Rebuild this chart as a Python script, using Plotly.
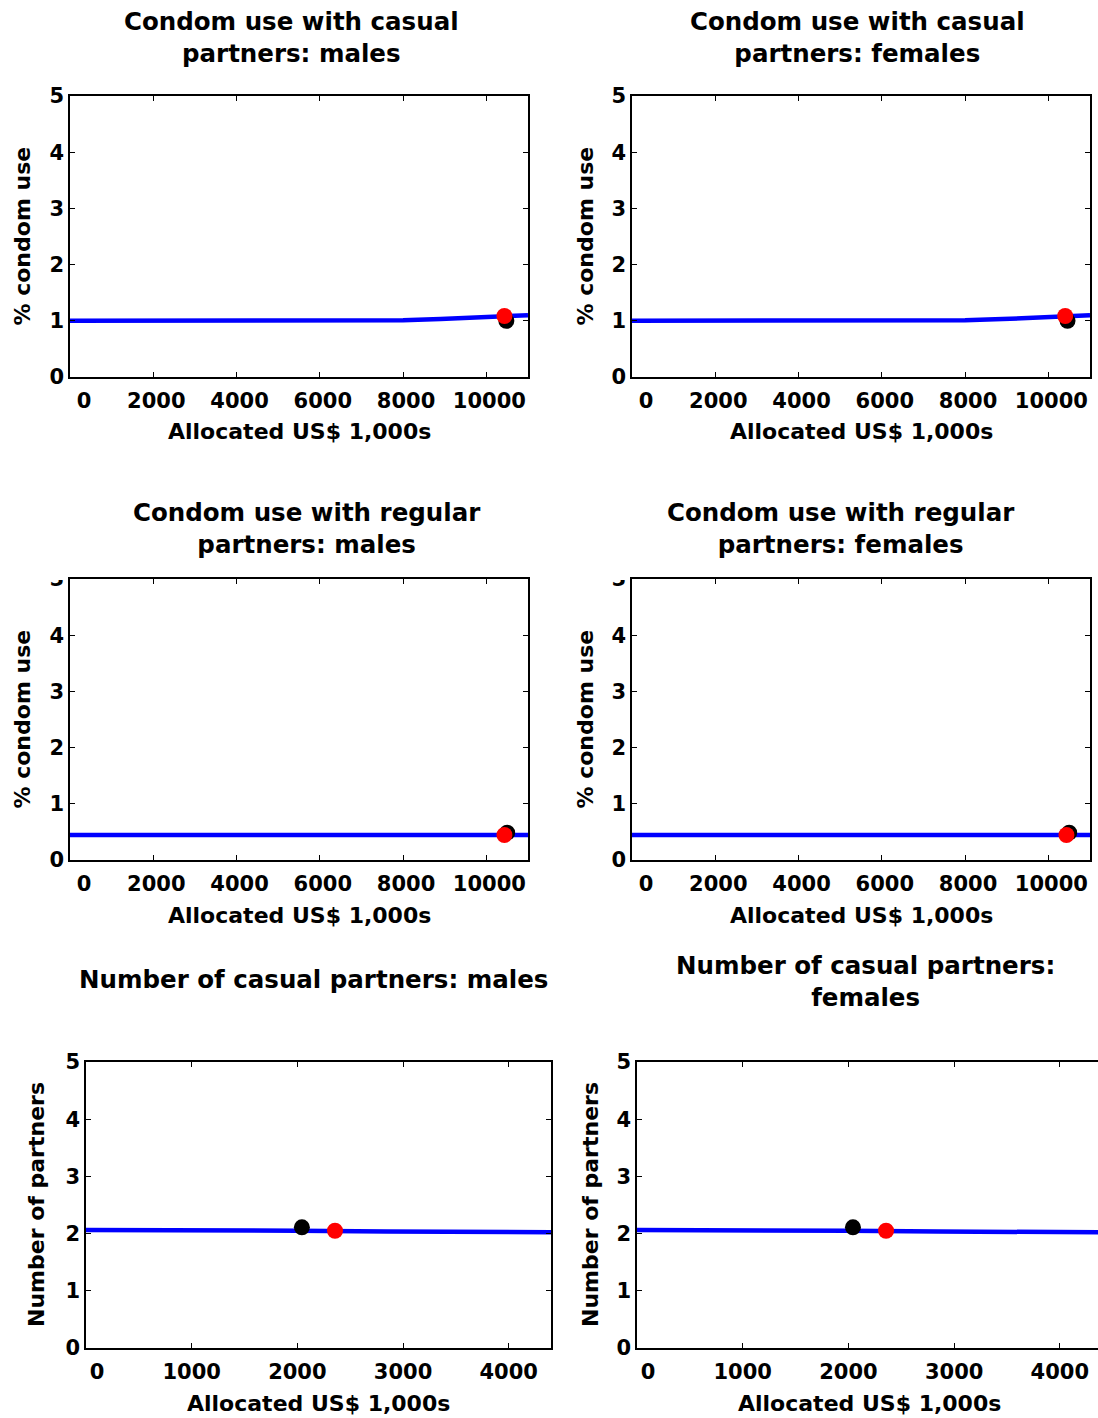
import plotly.graph_objects as go
from plotly.subplots import make_subplots

# ---- data -------------------------------------------------------------
budget_casual = [0, 2000, 4000, 6000, 7500, 8000, 8900, 9700, 10400, 11000]
condom_casual_m = [1.00, 1.00, 1.00, 1.00, 1.00, 1.01, 1.03, 1.06, 1.085, 1.10]
condom_casual_f = [1.00, 1.00, 1.00, 1.00, 1.00, 1.01, 1.03, 1.06, 1.085, 1.10]

budget_regular = [0, 2000, 4000, 6000, 8000, 10000, 11000]
condom_regular_m = [0.445, 0.445, 0.445, 0.445, 0.445, 0.445, 0.445]
condom_regular_f = [0.445, 0.445, 0.445, 0.445, 0.445, 0.445, 0.445]

budget_partners = [0, 1000, 1700, 2000, 2850, 3000, 3850, 4400]
partners_m = [2.063, 2.063, 2.05, 2.05, 2.035, 2.035, 2.025, 2.025]
partners_f = [2.063, 2.063, 2.05, 2.05, 2.035, 2.035, 2.025, 2.025]

# current allocation (black) and optimised allocation (red)
current_x = [10480, 10460, 10500, 10500, 2043, 2043]
current_y = [1.00, 1.00, 0.486, 0.486, 2.11, 2.11]
optimal_x = [10434, 10404, 10434, 10434, 2356, 2356]
optimal_y = [1.085, 1.085, 0.445, 0.445, 2.05, 2.05]

titles = [
    "Condom use with casual<br>partners: males",
    "Condom use with casual<br>partners: females",
    "Condom use with regular<br>partners: males",
    "Condom use with regular<br>partners: females",
    "Number of casual partners: males",
    "Number of casual partners:<br>females",
]
y_titles = ["% condom use"] * 4 + ["Number of partners"] * 2
x_title = "Allocated US$ 1,000s"

x_ticks_large = [0, 2000, 4000, 6000, 8000, 10000]
x_ticks_small = [0, 1000, 2000, 3000, 4000]
y_ticks = [0, 1, 2, 3, 4, 5]

# ---- layout geometry (pixels) ----------------------------------------
W, H = 1098, 1418
FONT = "DejaVu Sans"

# (left, right, top, bottom) of each plotting area
boxes = [
    (70, 528, 96, 377), (632, 1090, 96, 377),
    (70, 528, 579, 860), (632, 1090, 579, 860),
    (86, 551, 1062, 1348), (637, 1098, 1062, 1348),
]
x_ranges = [[0, 11000]] * 4 + [[0, 4400], [0, 4361]]
title_pos = [(291, 38), (857, 38), (307, 528), (841, 528), (313, 979), (865, 981)]
ytitle_x = [22, 585, 22, 585, 36, 590]

series = [
    (budget_casual, condom_casual_m),
    (budget_casual, condom_casual_f),
    (budget_regular, condom_regular_m),
    (budget_regular, condom_regular_f),
    (budget_partners, partners_m),
    (budget_partners, partners_f),
]


def px(x):
    return x / W


def py(y):
    return 1 - y / H


fig = make_subplots(rows=3, cols=2)

for i, (bx, by) in enumerate(series):
    row, col = i // 2 + 1, i % 2 + 1
    fig.add_trace(go.Scatter(x=bx, y=by, mode="lines",
                             line=dict(color="#0000ff", width=4.5),
                             showlegend=False, hoverinfo="skip"),
                  row=row, col=col)
    fig.add_trace(go.Scatter(x=[current_x[i]], y=[current_y[i]], mode="markers",
                             marker=dict(color="black", size=16),
                             showlegend=False), row=row, col=col)
    fig.add_trace(go.Scatter(x=[optimal_x[i]], y=[optimal_y[i]], mode="markers",
                             marker=dict(color="#ff0000", size=16),
                             showlegend=False), row=row, col=col)

tick_font = dict(family=FONT, size=21, color="black", weight="bold")
annotations = []
shapes = []

for i in range(6):
    row, col = i // 2 + 1, i % 2 + 1
    l, r, t, b = boxes[i]
    ticks = x_ticks_large if i < 4 else x_ticks_small
    ticktext = ["\u00a0\u00a0\u00a00"] + [str(v) for v in ticks[1:]]
    last = i == 5
    fig.update_xaxes(
        domain=[px(l), min(px(r), 1.0)], range=x_ranges[i],
        tickvals=ticks, ticktext=ticktext, automargin=False,
        ticks="inside", ticklen=5, tickwidth=1, tickcolor="black",
        showline=True, linecolor="black", linewidth=1.5, mirror="ticks",
        showgrid=False, zeroline=False, tickfont=tick_font,
        ticklabelstandoff=4, ticklabelshift=3 if i < 4 else 0,
        row=row, col=col)
    fig.update_yaxes(
        domain=[py(b), py(t)], range=[0, 5], tickvals=y_ticks,
        automargin=False,
        ticks="inside", ticklen=5, tickwidth=1, tickcolor="black",
        showline=True, linecolor="black", linewidth=1.5,
        mirror=False if last else "ticks",
        showgrid=False, zeroline=False, tickfont=tick_font,
        ticklabelstandoff=0,
        row=row, col=col)

    tx, ty = title_pos[i]
    annotations.append(dict(
        text=titles[i], x=px(tx), y=py(ty), xref="paper", yref="paper",
        showarrow=False, xanchor="center", yanchor="middle",
        font=dict(family=FONT, size=24.5, color="black", weight="bold")))
    annotations.append(dict(
        text=x_title, x=px((l + r) / 2 if not last else 869), y=py(b + 55),
        xref="paper", yref="paper", showarrow=False,
        xanchor="center", yanchor="middle",
        font=dict(family=FONT, size=22, color="black", weight="bold")))
    annotations.append(dict(
        text=y_titles[i], x=px(ytitle_x[i]), y=py((t + b) / 2),
        xref="paper", yref="paper", showarrow=False, textangle=-90,
        xanchor="center", yanchor="middle",
        font=dict(family=FONT, size=22, color="black", weight="bold")))

# the middle row's top tick label is partly hidden by the title band
for l in (40, 602):
    shapes.append(dict(type="rect", xref="paper", yref="paper",
                       x0=px(l), x1=px(l + 27), y0=py(580), y1=py(560),
                       fillcolor="white", line=dict(width=0), layer="above"))

fig.update_layout(
    width=W, height=H, margin=dict(l=0, r=0, t=0, b=0, autoexpand=False),
    paper_bgcolor="white", plot_bgcolor="white",
    annotations=annotations, shapes=shapes, showlegend=False,
)

fig.write_html("out.html")
